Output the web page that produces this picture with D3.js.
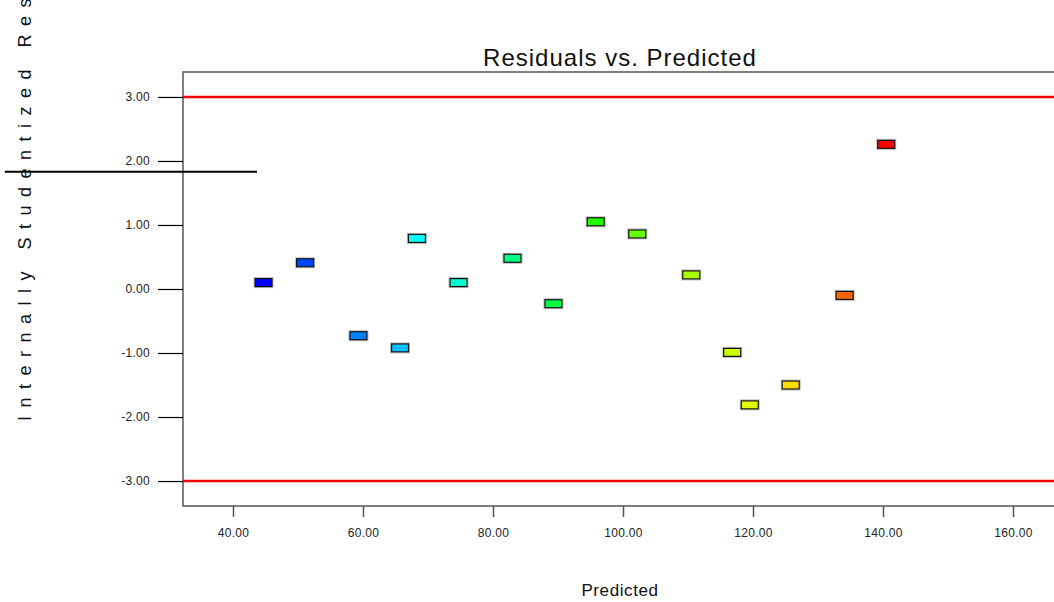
<!DOCTYPE html>
<html lang="en">
<head>
    <meta charset="UTF-8">
    <script src="https://d3js.org/d3.v7.min.js"></script>
    <title>Residuals vs. Predicted</title>
    <style>
        body { margin: 0; background: #fff; }
        svg { display: block; font-family: "Liberation Sans", Arial, sans-serif; }
    </style>
</head>
<body>
    <script>

        // data
        var predicted = [44.7, 51.1, 59.3, 65.7, 68.3, 74.7, 83.0, 89.3, 95.8, 102.2, 110.5, 116.8, 119.5, 125.8, 134.1, 140.5];
        var residuals = [0.10, 0.41, -0.73, -0.92, 0.79, 0.10, 0.48, -0.23, 1.05, 0.86, 0.22, -0.99, -1.81, -1.50, -0.10, 2.26];
        var pointColors = ["#0000ff", "#0044ff", "#0080ff", "#00bfff", "#00ffff", "#00ffcc", "#00ff80", "#00ff44",
                           "#22ff00", "#66ff00", "#aaff00", "#ccff00", "#ddff00", "#ffdd00", "#ff6600", "#ff0000"];
        var xTicks = [40, 60, 80, 100, 120, 140, 160];
        var yTicks = [-3, -2, -1, 0, 1, 2, 3];
        var limits = [3, -3];
        // stray black segment on the left
        var strayLine = {x0: 4.9, x1: 43.7, y: 1.83};

        var width = 1054, height = 602;

        var svg = d3.select("body")
            .append("svg")
            .attr("width", width)
            .attr("height", height);

        var xScale = d3.scaleLinear()
            .domain([32.31, 166.77])
            .range([183, 1057]);

        var yScale = d3.scaleLinear()
            .domain([-3.39, 3.39])
            .range([506, 72]);

        // plain hyphen instead of the unicode minus
        var fmt = function(d) {return d3.format(".2f")(d).replace("\u2212", "-")};

        // frame
        svg.append("path")
            .attr("d", "M" + xScale.range()[1] + "," + yScale.range()[1] +
                       "H" + xScale.range()[0] + "V" + yScale.range()[0] + "H" + xScale.range()[1])
            .attr("fill", "none")
            .attr("stroke", "#555")
            .attr("stroke-width", 1.5);

        // y axis
        var yAxis = d3.axisLeft(yScale)
            .tickValues(yTicks)
            .tickSize(25)
            .tickPadding(8)
            .tickFormat(fmt);

        var gy = svg.append("g")
            .attr("transform", "translate(" + xScale.range()[0] + ",0)")
            .call(yAxis);
        gy.select(".domain").remove();
        gy.selectAll("line").attr("stroke", "#000").attr("stroke-width", 1.2);
        gy.selectAll("text")
            .attr("font-size", 12)
            .attr("font-family", "Liberation Sans, Arial, sans-serif")
            .attr("letter-spacing", 0.3)
            .attr("fill", "#222");

        // x axis
        var xAxis = d3.axisBottom(xScale)
            .tickValues(xTicks)
            .tickSize(11)
            .tickPadding(11)
            .tickFormat(fmt);

        var gx = svg.append("g")
            .attr("transform", "translate(0," + yScale.range()[0] + ")")
            .call(xAxis);
        gx.select(".domain").remove();
        gx.selectAll("line").attr("stroke", "#555").attr("stroke-width", 1.5);
        gx.selectAll("text")
            .attr("font-size", 12)
            .attr("font-family", "Liberation Sans, Arial, sans-serif")
            .attr("letter-spacing", 0.3)
            .attr("fill", "#222");

        // red limit lines
        svg.selectAll(".limit")
            .data(limits)
            .enter()
            .append("line")
            .attr("class", "limit")
            .attr("x1", xScale.range()[0])
            .attr("x2", xScale.range()[1])
            .attr("y1", function(d) {return yScale(d)})
            .attr("y2", function(d) {return yScale(d)})
            .attr("stroke", "#ff0000")
            .attr("stroke-width", 2.5);

        // stray line
        svg.append("line")
            .attr("x1", xScale(strayLine.x0))
            .attr("x2", xScale(strayLine.x1))
            .attr("y1", yScale(strayLine.y))
            .attr("y2", yScale(strayLine.y))
            .attr("stroke", "#000")
            .attr("stroke-width", 2);

        // points
        var data = predicted.map(function(p, i) {
            return {x: p, y: residuals[i], c: pointColors[i]};
        });

        var bw = 17, bh = 8;

        svg.selectAll(".halo")
            .data(data)
            .enter()
            .append("rect")
            .attr("class", "halo")
            .attr("x", function(d) {return xScale(d.x) - bw / 2 - 1})
            .attr("y", function(d) {return yScale(d.y) - bh / 2 - 1})
            .attr("width", bw + 2)
            .attr("height", bh + 2)
            .attr("fill", "none")
            .attr("stroke", "#bbb")
            .attr("stroke-width", 1);

        svg.selectAll(".pt")
            .data(data)
            .enter()
            .append("rect")
            .attr("class", "pt")
            .attr("x", function(d) {return xScale(d.x) - bw / 2})
            .attr("y", function(d) {return yScale(d.y) - bh / 2})
            .attr("width", bw)
            .attr("height", bh)
            .attr("fill", function(d) {return d.c})
            .attr("stroke", "#111")
            .attr("stroke-width", 1.2);

        // title
        svg.append("text")
            .attr("x", 620)
            .attr("y", 66)
            .attr("text-anchor", "middle")
            .attr("font-size", 24)
            .attr("letter-spacing", 1)
            .attr("fill", "#111")
            .text("Residuals vs. Predicted");

        // x label
        svg.append("text")
            .attr("x", 620)
            .attr("y", 596)
            .attr("text-anchor", "middle")
            .attr("font-size", 17)
            .attr("letter-spacing", 0.6)
            .attr("fill", "#111")
            .text("Predicted");

        // y label, spread out and cut at the top like the original
        svg.append("text")
            .attr("transform", "translate(30.5,421) rotate(-90)")
            .attr("font-size", 18)
            .attr("letter-spacing", 8.5)
            .attr("fill", "#111")
            .text("Internally Studentized Residuals");

    </script>
</body>
</html>
